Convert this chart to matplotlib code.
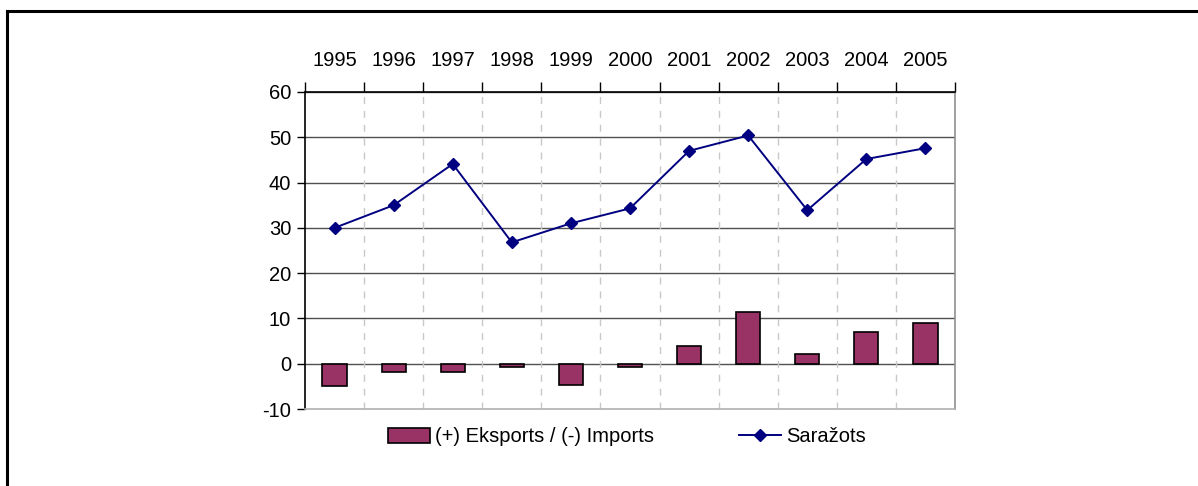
import numpy as np
import matplotlib.pyplot as plt
from matplotlib.lines import Line2D

# === DATA ===
years = ['1995', '1996', '1997', '1998', '1999', '2000',
         '2001', '2002', '2003', '2004', '2005']
balance = [-4.9, -1.8, -1.8, -0.7, -4.6, -0.7, 3.9, 11.4, 2.1, 6.9, 9.0]
production = [30.0, 35.0, 44.1, 26.8, 31.0, 34.3, 47.0, 50.4, 33.9, 45.2, 47.6]

bar_label = '(+) Eksports / (-) Imports'
line_label = 'Saražots'

plt.rcParams['font.family'] = ['Liberation Sans', 'DejaVu Sans']
plt.rcParams['axes.unicode_minus'] = False
fs = 14.5

W, H = 1198, 486
fig = plt.figure(figsize=(W / 100, H / 100), dpi=100)

# outer frame (top and left edge only visible)
fig.add_artist(Line2D([7 / W, 1], [1 - 11 / H, 1 - 11 / H],
                      transform=fig.transFigure, color='black', lw=2.2))
fig.add_artist(Line2D([7 / W, 7 / W], [0, 1 - 11 / H],
                      transform=fig.transFigure, color='black', lw=2.2))

ax = fig.add_axes([305 / W, 1 - 409 / H, 650 / W, 317 / H])
x = np.arange(len(years))

bars = ax.bar(x, balance, width=0.41, color='#993366', edgecolor='black',
              linewidth=1.2, label=bar_label, zorder=3)
line, = ax.plot(x, production, color='#000080', lw=1.4, marker='D', markersize=6.5,
                label=line_label, zorder=4)

ax.set_xlim(-0.5, len(years) - 0.5)
ax.set_ylim(-10, 60)
ax.set_yticks(range(-10, 61, 10))

# horizontal gridlines
for v in range(0, 61, 10):
    ax.axhline(v, color='#505050', lw=1.0, zorder=1)
# vertical dashed category separators
for b in np.arange(0.5, len(years) - 1, 1.0):
    ax.axvline(b, color='#c8c8c8', lw=1.0, dashes=(5, 5), zorder=1)

# category labels on top, ticks at boundaries
ax.xaxis.tick_top()
ax.set_xticks(np.arange(-0.5, len(years), 1.0))
ax.set_xticklabels([])
ax.set_xticks(x, minor=True)
ax.set_xticklabels(years, minor=True, fontsize=fs)
ax.tick_params(axis='x', which='major', direction='out', length=7, width=1, color='black')
ax.tick_params(axis='x', which='minor', length=0, pad=15.5)
ax.tick_params(axis='y', direction='out', length=6, width=1, labelsize=fs, pad=4)

ax.spines['left'].set_color('black')
ax.spines['top'].set_color('black')
ax.spines['right'].set_color('#909090')
ax.spines['bottom'].set_color('#b0b0b0')
for s in ax.spines.values():
    s.set_linewidth(1.2)

ax.legend([bars, line], [bar_label, line_label],
          loc='center left', bbox_to_anchor=(378 / W, 1 - 437 / H),
          bbox_transform=fig.transFigure, ncol=2, frameon=False, fontsize=fs,
          borderpad=0, handlelength=2.1, handletextpad=0.25, columnspacing=4.2)

fig.savefig('out.png', dpi=100, facecolor='white')
